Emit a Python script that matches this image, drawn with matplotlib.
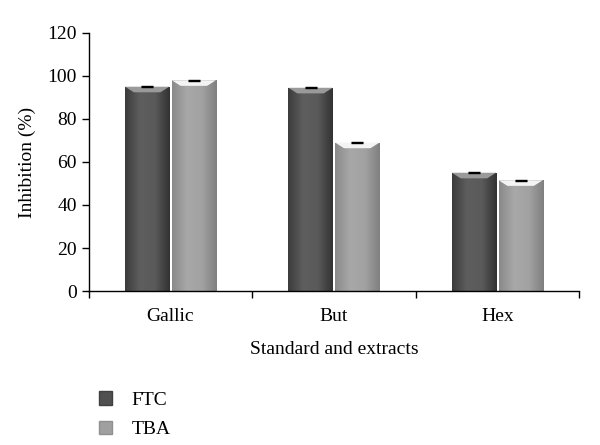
import numpy as np
import matplotlib.pyplot as plt
from matplotlib.colors import LinearSegmentedColormap
from matplotlib.patches import Polygon, Patch

categories = ['Gallic', 'But', 'Hex']
ftc = [95.0, 94.5, 55.0]
tba = [98.0, 69.0, 51.5]
ftc_err = [0.3, 0.3, 0.3]
tba_err = [0.3, 0.3, 0.3]

plt.rcParams['font.family'] = ['Liberation Serif', 'DejaVu Serif']

fig = plt.figure(figsize=(6, 4.45), dpi=100)
ax = fig.add_axes([0.148, 0.346, 0.817, 0.58])

x = np.arange(len(categories))
w = 0.27
off = 0.143

ftc_cmap = LinearSegmentedColormap.from_list('ftc', ['#3c3c3c', '#5e5e5e', '#5a5a5a', '#333333'])
tba_cmap = LinearSegmentedColormap.from_list('tba', ['#8a8a8a', '#a8a8a8', '#a2a2a2', '#808080'])


def fancy_bars(pos, vals, errs, cmap, top_col, label):
    bars = ax.bar(pos, vals, w, color='none', edgecolor='none', label=label)
    grad = np.linspace(0, 1, 64).reshape(1, -1)
    for b in bars:
        x0, h, bw = b.get_x(), b.get_height(), b.get_width()
        im = ax.imshow(grad, cmap=cmap, extent=(x0, x0 + bw, 0, h),
                       aspect='auto', zorder=2)
        im.set_clip_path(b)
        d = bw * 0.2
        t = 2.6
        ax.add_patch(Polygon([(x0, h), (x0 + bw, h), (x0 + bw - d, h - t), (x0 + d, h - t)],
                             closed=True, color=top_col, zorder=3, lw=0))
    ax.errorbar(pos, vals, yerr=errs, fmt='none', ecolor='black', capsize=4,
                elinewidth=0.6, capthick=1.0, zorder=4)
    return bars


b1 = fancy_bars(x - off, ftc, ftc_err, ftc_cmap, '#9a9a9a', 'FTC')
b2 = fancy_bars(x + off, tba, tba_err, tba_cmap, '#f4f4f4', 'TBA')

ax.set_xlim(-0.5, 2.5)
ax.set_ylim(0, 120)
ax.set_yticks(range(0, 121, 20))
ax.set_xticks([-0.5, 0.5, 1.5, 2.5])
ax.set_xticklabels([])
ax.set_xticks(x, minor=True)
ax.set_xticklabels(categories, minor=True, fontsize=14)
ax.tick_params(axis='x', which='minor', length=0, pad=12)
ax.tick_params(axis='x', which='major', length=5, direction='out', width=1)
ax.tick_params(axis='y', length=5, direction='out', width=1, labelsize=14)
for s in ['top', 'right']:
    ax.spines[s].set_visible(False)
ax.spines['left'].set_linewidth(1)
ax.spines['bottom'].set_linewidth(1)

ax.set_ylabel('Inhibition (%)', fontsize=14, labelpad=8)
ax.set_xlabel('Standard and extracts', fontsize=14, labelpad=12)

handles = [Patch(facecolor='#505050', edgecolor='#404040'),
           Patch(facecolor='#a0a0a0', edgecolor='#909090')]
fig.legend(handles, ['FTC', 'TBA'], loc='upper left', bbox_to_anchor=(0.135, 0.16),
           frameon=False, fontsize=14, handlelength=0.7, handleheight=0.7,
           handletextpad=1.0, labelspacing=0.6)

fig.savefig('out.png', dpi=100)
